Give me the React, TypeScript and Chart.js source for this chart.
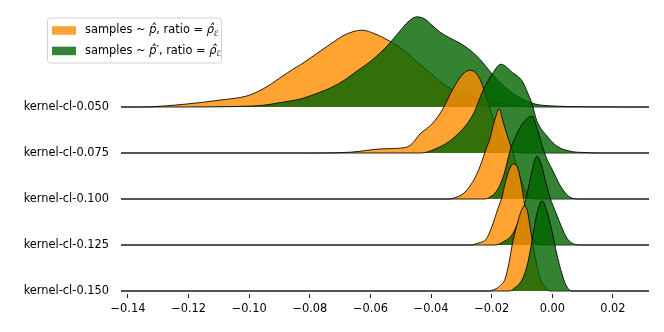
import React, { useEffect, useRef } from 'react';
import { Chart, registerables } from 'chart.js';

Chart.register(...registerables);

// ---- data ----
const rowLabels = ['kernel-cl-0.050', 'kernel-cl-0.075', 'kernel-cl-0.100', 'kernel-cl-0.125', 'kernel-cl-0.150'];
const rowBaselines = [4, 3, 2, 1, 0];
const xTicks = [-0.14, -0.12, -0.1, -0.08, -0.06, -0.04, -0.02, 0.0, 0.02];
const X_MIN = -0.1423;
const X_MAX = 0.0319;

const orange050X = [-0.1361, -0.1206, -0.1097, -0.1008, -0.0955, -0.0899, -0.0856, -0.0833, -0.0727, -0.0684, -0.0628, -0.0585, -0.0536, -0.0503, -0.0437, -0.0387, -0.0338, -0.0272, -0.0189, -0.0107, -0.004];
const orange050Y = [0, 0.065, 0.15, 0.24, 0.39, 0.63, 0.82, 0.91, 1.39, 1.57, 1.67, 1.59, 1.43, 1.3, 0.93, 0.65, 0.41, 0.24, 0.11, 0.02, 0];
const green050X = [-0.1272, -0.0988, -0.0866, -0.0833, -0.08, -0.0727, -0.0684, -0.0645, -0.0602, -0.0569, -0.0536, -0.0503, -0.0476, -0.0447, -0.042, -0.0397, -0.0371, -0.0338, -0.0305, -0.0272, -0.0239, -0.0199, -0.0156, -0.0107, -0.0057, 0.0009, 0.0157, 0.025];
const green050Y = [0, 0.02, 0.13, 0.17, 0.24, 0.43, 0.59, 0.78, 0.98, 1.17, 1.39, 1.65, 1.85, 1.96, 1.91, 1.78, 1.63, 1.5, 1.39, 1.24, 1.04, 0.72, 0.43, 0.2, 0.065, 0.02, 0.003, 0];

const orange075X = [-0.08, -0.0662, -0.0562, -0.0484, -0.0463, -0.0437, -0.0394, -0.0361, -0.0328, -0.0295, -0.0269, -0.0239, -0.0222, -0.0189, -0.0156, -0.0123, -0.009];
const orange075Y = [0, 0.02, 0.09, 0.12, 0.2, 0.41, 0.65, 0.96, 1.39, 1.72, 1.8, 1.61, 1.3, 0.65, 0.22, 0.04, 0];
const green075X = [-0.0437, -0.0404, -0.0322, -0.0262, -0.0229, -0.0196, -0.017, -0.013, -0.01, -0.0084, -0.0067, -0.0051, -0.0018, 0.0015, 0.0058, 0.0108, 0.0157];
const green075Y = [0, 0.04, 0.35, 0.83, 1.35, 1.74, 1.93, 1.74, 1.57, 1.35, 1.07, 0.7, 0.37, 0.15, 0.04, 0.01, 0];

const orange100X = [-0.0338, -0.0321, -0.0305, -0.0288, -0.0272, -0.0255, -0.0239, -0.0216, -0.0206, -0.0196, -0.0186, -0.0176, -0.0163, -0.015, -0.0134, -0.0117, -0.0101, -0.0081, -0.0058];
const orange100Y = [0, 0.03, 0.07, 0.15, 0.28, 0.46, 0.7, 1.13, 1.3, 1.57, 1.8, 1.96, 1.7, 1.41, 1.09, 0.72, 0.37, 0.11, 0];
const green100X = [-0.0222, -0.0206, -0.0189, -0.0173, -0.0156, -0.014, -0.0123, -0.0097, -0.0067, -0.0048, -0.0031, -0.0018, -0.0001, 0.0018, 0.0035, 0.0058, 0.0091];
const green100Y = [0, 0.04, 0.13, 0.3, 0.61, 1.04, 1.33, 1.65, 1.8, 1.48, 1.11, 0.87, 0.65, 0.39, 0.2, 0.04, 0];

const orange125X = [-0.0272, -0.0245, -0.0216, -0.0196, -0.0179, -0.0166, -0.0156, -0.014, -0.0127, -0.0113, -0.01, -0.009, -0.0074, -0.0057, -0.0041];
const orange125Y = [0, 0.04, 0.15, 0.46, 0.8, 1.04, 1.33, 1.67, 1.76, 1.65, 1.24, 0.83, 0.33, 0.09, 0];
const green125X = [-0.0189, -0.0156, -0.0133, -0.0117, -0.01, -0.0084, -0.0067, -0.0051, -0.0038, -0.0024, -0.0008, 0.0012, 0.0032, 0.0048, 0.0065, 0.0091];
const green125Y = [0, 0.09, 0.22, 0.43, 0.7, 1.09, 1.61, 1.93, 1.78, 1.43, 1.04, 0.7, 0.37, 0.15, 0.04, 0];

const orange150X = [-0.0212, -0.0189, -0.0173, -0.0156, -0.0143, -0.0133, -0.0117, -0.01, -0.009, -0.0081, -0.0071, -0.0057, -0.0041, -0.0024, -0.0008];
const orange150Y = [0, 0.04, 0.11, 0.26, 0.61, 0.98, 1.43, 1.78, 1.85, 1.7, 1.3, 0.76, 0.3, 0.09, 0];
const green150X = [-0.014, -0.0124, -0.0107, -0.0094, -0.0081, -0.0067, -0.0051, -0.0034, -0.0018, -0.0001, 0.0015, 0.0032, 0.0048, 0.0065];
const green150Y = [0, 0.07, 0.17, 0.33, 0.61, 1.09, 1.67, 1.96, 1.74, 1.3, 0.8, 0.37, 0.09, 0];

const ORANGE = 'rgba(255,140,0,0.8)';
const GREEN = 'rgba(0,100,0,0.8)';
const FONT = '"DejaVu Sans", sans-serif';
const FS = 11.4;

const rows = [
  { ox: orange050X, oy: orange050Y, gx: green050X, gy: green050Y },
  { ox: orange075X, oy: orange075Y, gx: green075X, gy: green075Y },
  { ox: orange100X, oy: orange100Y, gx: green100X, gy: green100Y },
  { ox: orange125X, oy: orange125Y, gx: green125X, gy: green125Y },
  { ox: orange150X, oy: orange150Y, gx: green150X, gy: green150Y },
];

function makeDataset(xs: number[], ys: number[], base: number, color: string, label: string) {
  const data = [{ x: X_MIN, y: base }, ...xs.map((x, i) => ({ x, y: base + ys[i] })), { x: X_MAX, y: base }];
  return {
    label,
    data,
    borderColor: 'rgba(0,0,0,0.85)',
    borderWidth: 1,
    backgroundColor: color,
    fill: { value: base },
    pointRadius: 0,
    cubicInterpolationMode: 'monotone' as const,
    order: 0,
  };
}

const legendPlugin = {
  id: 'ridgeLegend',
  afterDraw(chart: any) {
    const ctx = chart.ctx as CanvasRenderingContext2D;
    ctx.save();
    const bx = 47.5, by = 18, bw = 174, bh = 45, r = 3;
    ctx.beginPath();
    ctx.moveTo(bx + r, by);
    ctx.lineTo(bx + bw - r, by);
    ctx.arcTo(bx + bw, by, bx + bw, by + r, r);
    ctx.lineTo(bx + bw, by + bh - r);
    ctx.arcTo(bx + bw, by + bh, bx + bw - r, by + bh, r);
    ctx.lineTo(bx + r, by + bh);
    ctx.arcTo(bx, by + bh, bx, by + bh - r, r);
    ctx.lineTo(bx, by + r);
    ctx.arcTo(bx, by, bx + r, by, r);
    ctx.closePath();
    ctx.fillStyle = 'rgba(255,255,255,0.8)';
    ctx.fill();
    ctx.strokeStyle = '#d0d0d0';
    ctx.lineWidth = 1;
    ctx.stroke();

    const items = [
      { color: ORANGE, y: 30.5, prime: false },
      { color: GREEN, y: 51, prime: true },
    ];
    ctx.textBaseline = 'middle';
    ctx.textAlign = 'left';
    for (const it of items) {
      ctx.fillStyle = it.color;
      ctx.fillRect(52, it.y - 4.3, 24, 8.5);
      ctx.fillStyle = '#000';
      const segs = [
        { t: 'samples ~ ', f: `${FS}px ${FONT}`, dy: 0 },
        { t: it.prime ? 'p\u0302\u2032' : 'p\u0302', f: `italic ${FS}px ${FONT}`, dy: 0 },
        { t: ', ratio = ', f: `${FS}px ${FONT}`, dy: 0 },
        { t: '\u03C1\u0302', f: `italic ${FS}px ${FONT}`, dy: 0 },
        { t: '\u2130', f: `8px ${FONT}`, dy: 3 },
      ];
      let cx = 85;
      for (const s of segs) {
        ctx.font = s.f;
        ctx.fillText(s.t, cx, it.y + s.dy);
        cx += ctx.measureText(s.t).width;
      }
    }
    ctx.restore();
  },
};

export default function App() {
  const ref = useRef<HTMLCanvasElement | null>(null);
  useEffect(() => {
    if (!ref.current) return;
    const seq: any[] = [];
    rows.forEach((r, i) => {
      seq.push(makeDataset(r.ox, r.oy, rowBaselines[i], ORANGE, rowLabels[i] + ' p'));
      seq.push(makeDataset(r.gx, r.gy, rowBaselines[i], GREEN, rowLabels[i] + " p'"));
    });
    seq.forEach((d, i) => (d.order = seq.length - 1 - i));

    const chart = new Chart(ref.current, {
      type: 'line',
      data: { datasets: seq },
      options: {
        animation: false,
        responsive: false,
        devicePixelRatio: 1,
        layout: { padding: { top: 10, right: 15, left: 0, bottom: 0 } },
        plugins: { legend: { display: false }, tooltip: { enabled: false } },
        scales: {
          x: {
            type: 'linear',
            min: X_MIN,
            max: X_MAX,
            afterBuildTicks: (scale: any) => {
              scale.ticks = xTicks.map((v) => ({ value: v }));
            },
            afterFit: (scale: any) => {
              scale.height = 38;
              scale.paddingLeft = 0;
              scale.paddingRight = 0;
            },
            ticks: {
              autoSkip: false,
              maxRotation: 0,
              padding: 4,
              color: '#000',
              font: { family: FONT, size: FS },
              callback: (v: any) => {
                const n = Number(v);
                if (Math.abs(n) < 1e-9) return '0.00';
                return (n < 0 ? '\u2212' : '') + Math.abs(n).toFixed(2);
              },
            },
            grid: { display: true, drawOnChartArea: false, drawTicks: true, tickLength: 4, tickColor: '#222', lineWidth: 1 },
            border: { display: false },
          },
          y: {
            type: 'linear',
            min: -3 / 46,
            max: 281 / 46,
            afterBuildTicks: (scale: any) => {
              scale.ticks = rowBaselines.map((v) => ({ value: v }));
            },
            afterFit: (scale: any) => {
              scale.width = 121;
              scale.paddingTop = 0;
              scale.paddingBottom = 0;
            },
            ticks: {
              autoSkip: false,
              padding: 12,
              color: '#000',
              font: { family: FONT, size: FS },
              callback: (v: any) => {
                const idx = rowBaselines.indexOf(Math.round(Number(v)));
                return idx >= 0 ? rowLabels[idx] : '';
              },
            },
            grid: { display: false, drawTicks: false },
            border: { display: false },
          },
        },
      },
      plugins: [legendPlugin],
    });
    return () => chart.destroy();
  }, []);

  return (
    <div style={{ position: 'fixed', left: 0, top: 0, width: 664, height: 332, background: '#fff' }}>
      <canvas ref={ref} width={664} height={332} style={{ width: 664, height: 332 }} />
    </div>
  );
}
